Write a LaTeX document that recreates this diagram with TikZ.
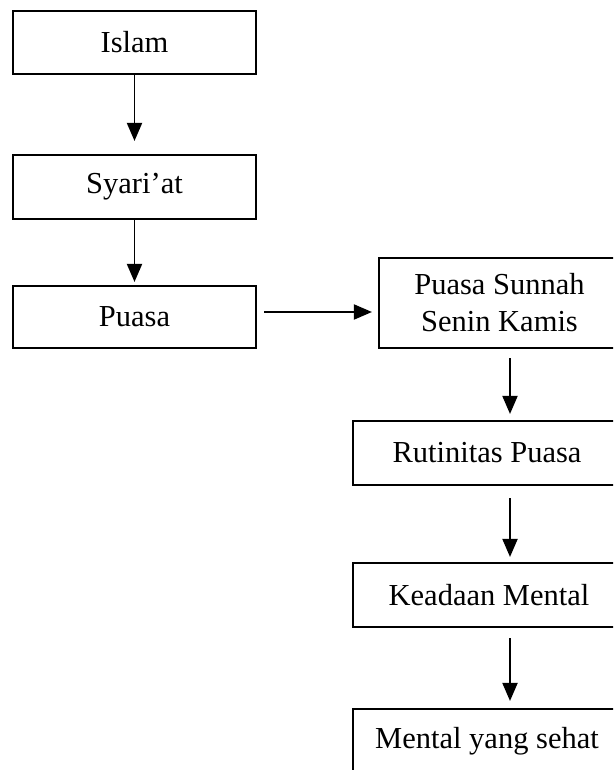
\documentclass[tikz,border=0pt]{standalone}
\usepackage{fontspec}
\setmainfont{Liberation Serif}
\usetikzlibrary{arrows.meta,calc}
\begin{document}
\begin{tikzpicture}[x=1pt,y=-1pt,
  box/.style={draw=black, line width=2.1pt, inner sep=0pt, align=center,
    font=\fontsize{30.5}{37}\selectfont, text=black},
  arr/.style={line width=1.9pt, draw=black,
    -{Triangle[length=18pt,width=15pt]}}]
\useasboundingbox (0,0) rectangle (613,770);
\fill[white] (0,0) rectangle (613,770);
\clip (0,0) rectangle (613,770);
\node[box, minimum width=243pt, minimum height=63pt] (islam) at (134.5,42.5) {Islam};
\node[box, minimum width=243pt, minimum height=64pt] (syariat) at (134.5,187) {Syari’at};
\node[box, minimum width=243pt, minimum height=62pt] (puasa) at (134.5,317) {Puasa};
\node[box, minimum width=241pt, minimum height=90pt] (sunnah) at (499.5,303) {Puasa Sunnah\\Senin Kamis};
\node[box, minimum width=268pt, minimum height=64pt] (rutin) at (487,453) {Rutinitas Puasa};
\node[box, minimum width=272pt, minimum height=64pt] (keadaan) at (489,595) {Keadaan Mental};
\node[box, minimum width=268pt, minimum height=64pt] (sehat) at (487,741) {Mental yang sehat};
\coordinate (rx) at (510,0);
\coordinate (hy) at (0,312);
\draw[arr] (islam.south) -- ($(syariat.north)+(0,-13)$);
\draw[arr] (syariat.south) -- ($(puasa.north)+(0,-3)$);
\draw[arr] ($(puasa.east |- hy)+(7,0)$) -- ($(sunnah.west |- hy)+(-6,0)$);
\draw[arr] ($(sunnah.south -| rx)+(0,9)$) -- ($(rutin.north -| rx)+(0,-6)$);
\draw[arr] ($(rutin.south -| rx)+(0,12)$) -- ($(keadaan.north -| rx)+(0,-5)$);
\draw[arr] ($(keadaan.south -| rx)+(0,10)$) -- ($(sehat.north -| rx)+(0,-7)$);
\end{tikzpicture}
\end{document}
